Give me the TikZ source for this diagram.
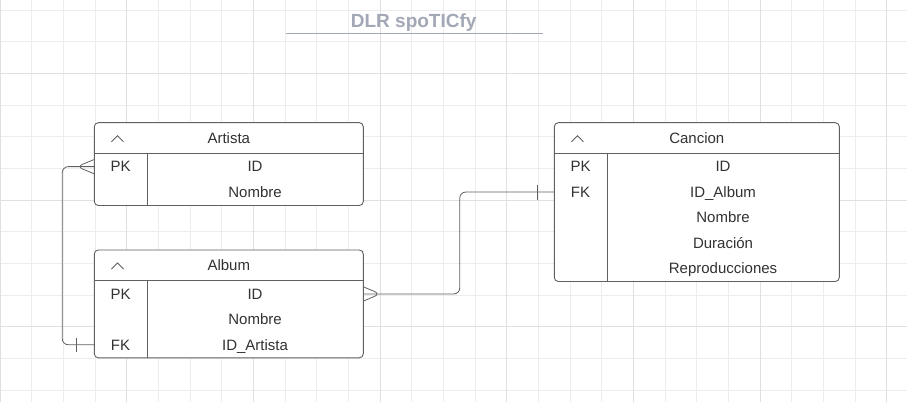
\documentclass[tikz,border=0pt]{standalone}
\usepackage{fontspec}
\setmainfont{Liberation Sans}
\usetikzlibrary{positioning}
\definecolor{rejilla}{RGB}{237,237,237}
\definecolor{rejillafuerte}{RGB}{224,224,224}
\definecolor{trazo}{RGB}{96,96,96}
\definecolor{texto}{RGB}{50,50,50}
\definecolor{gristitulo}{RGB}{162,168,182}

\begin{document}
\begin{tikzpicture}[x=1pt,y=1pt,node distance=25.4pt,on grid,
   tabla/.style={draw=trazo,line width=0.9pt,fill=white,rounded corners=4pt,inner sep=0pt},
   borde/.style={draw=trazo,line width=0.9pt},
   cabecera/.style={text=texto,font=\fontsize{15}{18}\selectfont,inner sep=0pt,text height=10.7pt,text depth=0pt},
   clave/.style={cabecera},
   campo/.style={cabecera},
   rel/.style={draw=trazo,line width=0.8pt,rounded corners=6pt},
   titulo/.style={text=gristitulo,font=\fontsize{19}{22}\selectfont\bfseries,inner sep=0pt}]
   \useasboundingbox (0,0) rectangle (907,402);
   \fill[white] (0,0) rectangle (907,402);
   % rejilla de fondo
   \draw[rejilla,line width=0.8pt,shift={(0,12)},step=31.667pt] (0,-12) grid (907,390);
   \draw[rejillafuerte,line width=0.8pt,shift={(0,75.333)},step=126.667pt] (0,-75.333) grid (907,326.667);
   % titulo
   \node[titulo,anchor=base] (titulo) at (413.7,374.3) {DLR spoTICfy};
   \draw[gristitulo,line width=1.2pt] (286,368.3) -- (542.7,368.3);

   % Artista
   \node[tabla,minimum width=269pt,minimum height=82.8pt] (artista) at (228.8,237.9) {};
   \draw[borde] ([yshift=-31pt]artista.north west) -- ([yshift=-31pt]artista.north east);
   \draw[borde] ([xshift=53.4pt,yshift=-31pt]artista.north west) -- ([xshift=53.4pt]artista.south west);
   \node[cabecera,below=16pt of artista.north,anchor=center] (art-tit) {Artista};
   \coordinate[below right=16.5pt and 23.6pt of artista.north west] (art-flecha);
   \draw[borde] ([xshift=-6pt,yshift=-3pt]art-flecha) -- ([yshift=3pt]art-flecha) -- ([xshift=6pt,yshift=-3pt]art-flecha);
   \node[clave,below right=44.4pt and 26.7pt of artista.north west,anchor=center] (art-pk) {PK};
   \node[campo,right=134.5pt of art-pk] (art-id) {ID};
   \node[campo,below=of art-id] (art-nombre) {Nombre};

   % Album
   \node[tabla,minimum width=269pt,minimum height=107.8pt] (album) at (228.8,98.1) {};
   \draw[borde] ([yshift=-31pt]album.north west) -- ([yshift=-31pt]album.north east);
   \draw[borde] ([xshift=53.4pt,yshift=-31pt]album.north west) -- ([xshift=53.4pt]album.south west);
   \node[cabecera,below=16pt of album.north,anchor=center] (alb-tit) {Album};
   \coordinate[below right=16.5pt and 23.6pt of album.north west] (alb-flecha);
   \draw[borde] ([xshift=-6pt,yshift=-3pt]alb-flecha) -- ([yshift=3pt]alb-flecha) -- ([xshift=6pt,yshift=-3pt]alb-flecha);
   \node[clave,below right=44.4pt and 26.7pt of album.north west,anchor=center] (alb-pk) {PK};
   \node[campo,right=134.5pt of alb-pk] (alb-id) {ID};
   \node[campo,below=of alb-id] (alb-nombre) {Nombre};
   \node[campo,below=of alb-nombre] (alb-idart) {ID\_Artista};
   \node[clave,left=134.5pt of alb-idart] (alb-fk) {FK};

   % Cancion
   \node[tabla,minimum width=285pt,minimum height=158.8pt] (cancion) at (696.8,199.9) {};
   \draw[borde] ([yshift=-31pt]cancion.north west) -- ([yshift=-31pt]cancion.north east);
   \draw[borde] ([xshift=53.4pt,yshift=-31pt]cancion.north west) -- ([xshift=53.4pt]cancion.south west);
   \node[cabecera,below=16pt of cancion.north,anchor=center] (can-tit) {Cancion};
   \coordinate[below right=16.5pt and 23.6pt of cancion.north west] (can-flecha);
   \draw[borde] ([xshift=-6pt,yshift=-3pt]can-flecha) -- ([yshift=3pt]can-flecha) -- ([xshift=6pt,yshift=-3pt]can-flecha);
   \node[clave,below right=44.4pt and 26.7pt of cancion.north west,anchor=center] (can-pk) {PK};
   \node[campo,right=142.5pt of can-pk] (can-id) {ID};
   \node[campo,below=of can-id] (can-idalb) {ID\_Album};
   \node[clave,left=142.5pt of can-idalb] (can-fk) {FK};
   \node[campo,below=of can-idalb] (can-nombre) {Nombre};
   \node[campo,below=of can-nombre] (can-duracion) {Duración};
   \node[campo,below=of can-duracion] (can-repro) {Reproducciones};

   % relaciones
   \coordinate (art-ext) at (artista.west |- art-id);
   \coordinate (alb-ext1) at (album.west |- alb-idart);
   \coordinate (alb-ext2) at (album.east |- alb-id);
   \coordinate (can-ext) at (cancion.west |- can-idalb);
   \draw[rel] (art-ext) -- ++(-31.6,0) |- (alb-ext1);
   \draw[rel] ([yshift=7pt]art-ext) -- ([xshift=-17pt]art-ext) -- ([yshift=-7pt]art-ext);
   \draw[rel] ([xshift=-17pt,yshift=7pt]alb-ext1) -- ([xshift=-17pt,yshift=-7pt]alb-ext1);
   \draw[rel] (alb-ext2) -- ++(96,0) |- (can-ext);
   \draw[rel] ([yshift=7pt]alb-ext2) -- ([xshift=16.5pt]alb-ext2) -- ([yshift=-7pt]alb-ext2);
   \draw[rel] ([xshift=-16pt,yshift=7.5pt]can-ext) -- ([xshift=-16pt,yshift=-7.5pt]can-ext);
\end{tikzpicture}
\end{document}
